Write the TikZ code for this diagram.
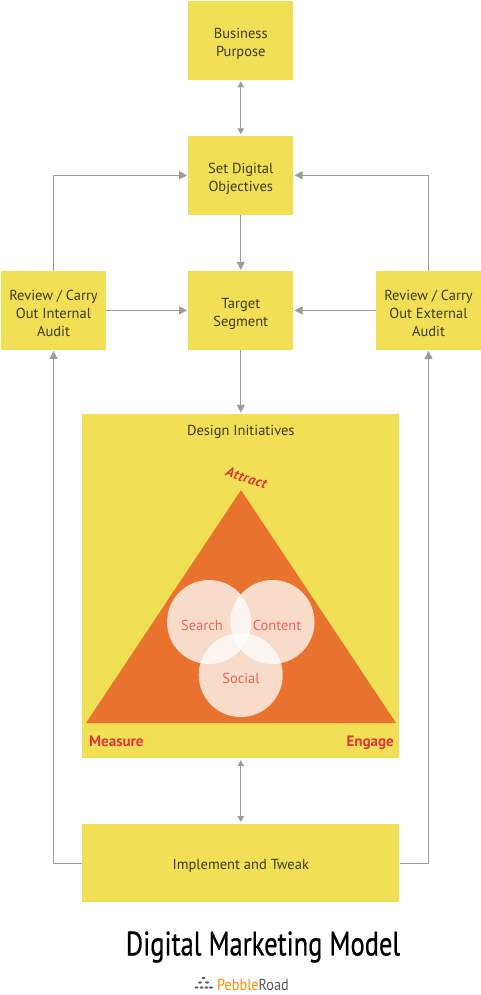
\documentclass[tikz,border=0pt]{standalone}
\usepackage{fontspec}
\setmainfont{PT Sans}
\usetikzlibrary{arrows.meta}
\definecolor{boxy}{HTML}{F1DF55}
\definecolor{orng}{HTML}{E9722F}
\definecolor{redt}{HTML}{E0363A}
\definecolor{pinkt}{HTML}{E8655C}
\definecolor{inkt}{HTML}{3E3B20}
\definecolor{arrowg}{HTML}{9C9C9C}
\tikzset{
  x=1pt,y=-1pt,
  boxnode/.style={fill=boxy,draw=none,inner sep=0pt},
  smallbox/.style={boxnode,minimum width=105pt,minimum height=78.6pt},
  widebox/.style={boxnode,minimum width=317pt,minimum height=78.6pt},
  boxtext/.style={inner sep=0pt,align=center,text=inkt,font=\fontsize{14.5}{18}\selectfont},
  conn/.style={draw=arrowg,line width=1pt,shorten >=1pt,-{Triangle[length=8pt,width=8pt,fill=arrowg]}},
  conn2/.style={draw=arrowg,line width=1pt,shorten >=1.5pt,shorten <=1.5pt,{Triangle[length=6pt,width=6.5pt,fill=arrowg]}-{Triangle[length=6pt,width=6.5pt,fill=arrowg]}},
  venn/.style={circle,fill=white,fill opacity=0.75,draw=none,minimum size=84pt,inner sep=0pt},
  venntext/.style={text=pinkt,font=\fontsize{14.5}{15}\selectfont,inner sep=0pt},
  cornertext/.style={text=redt,font=\fontsize{15}{15}\selectfont\bfseries,inner sep=0pt},
}
\begin{document}
\begin{tikzpicture}
\useasboundingbox (0,0) rectangle (481,995);
\node[smallbox] (purpose) at (240.8,40.3) {};
\node[smallbox] (obj) at (240.8,175.3) {};
\node[smallbox] (target) at (240.8,310.4) {};
\node[smallbox] (internal) at (53.5,310.4) {};
\node[smallbox] (external) at (428.5,310.4) {};
\node[boxnode,minimum width=317pt,minimum height=344.5pt] (design) at (240.8,586.2) {};
\node[widebox] (impl) at (240.8,863) {};
\node[boxtext] (tpurpose) at (240.8,44) {Business\\Purpose};
\node[boxtext] (tobj) at (240.8,179) {Set Digital\\Objectives};
\node[boxtext] (ttarget) at (240.8,314) {Target\\Segment};
\node[boxtext] (tinternal) at (53.5,313) {Review / Carry\\Out Internal\\Audit};
\node[boxtext] (texternal) at (428.5,313) {Review / Carry\\Out External\\Audit};
\node[boxtext] (timpl) at (240.8,866) {Implement and Tweak};
\node[boxtext] (dtitle) at (240.8,432) {Design Initiatives};
\fill[orng] (241,490) -- (396,723) -- (86,723) -- cycle;
\node[venn] (search) at (209,622) {};
\node[venn] (content) at (272.5,622) {};
\node[venn] (social) at (240.7,675) {};
\node[venntext] (tsearch) at (202,625) {Search};
\node[venntext] (tcontent) at (277,625) {Content};
\node[venntext] (tsocial) at (241,678) {Social};
\node[cornertext,anchor=base west] (measure) at (89,746) {Measure};
\node[cornertext,anchor=base east] (engage) at (394,746) {Engage};
\node[cornertext,rotate=-19,font=\fontsize{14}{15}\selectfont\bfseries\itshape\addfontfeature{LetterSpace=4}] (attract) at (246.5,478) {Attract};
\draw[conn2] (purpose) -- (obj);
\draw[conn] (obj) -- (target);
\draw[conn] (target) -- (design);
\draw[conn2] (design) -- (impl);
\draw[conn] (internal) -- (target);
\draw[conn] (external) -- (target);
\draw[conn] (internal.north) |- (obj.west);
\draw[conn] (external.north) |- (obj.east);
\draw[conn] (impl.west) -| (internal.south);
\draw[conn] (impl.east) -| (external.south);
\node[inner sep=0pt,xscale=0.78,font=\fontsize{34}{38}\selectfont\addfontfeature{FakeBold=0.6},text=black] (title) at (263,947) {Digital Marketing Model};
\node[inner sep=0pt,anchor=west,xscale=0.89,font=\fontsize{16}{18}\selectfont,text=black!65] (brand) at (217,984.5) {\textcolor{orange!90!yellow}{Pebble}Road};
\foreach \p/\w in {203.5/978,200/982.5,207/982.5,196.5/987.5,201.5/987.5,206.5/987.5,211/987.5}{
  \fill[black!60] (\p,\w) ellipse (2pt and 1.2pt);
}
\end{tikzpicture}
\end{document}
